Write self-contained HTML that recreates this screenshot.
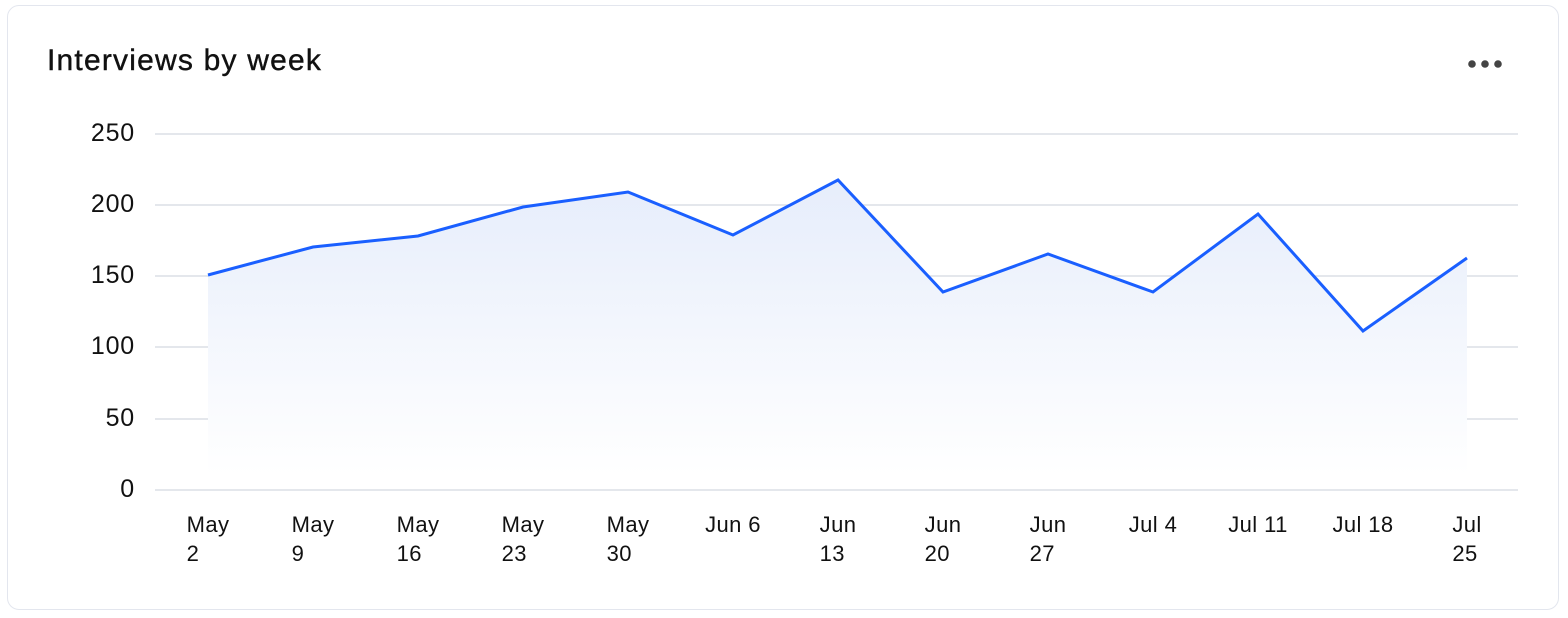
<!DOCTYPE html>
<html><head><style>
body{margin:0;width:1568px;height:618px;background:#fff;font-family:"Liberation Sans",sans-serif;position:relative;overflow:hidden}
.card{position:absolute;left:7px;top:5px;width:1552px;height:605px;border:1.5px solid #e3e6ee;border-radius:12px;box-sizing:border-box}
.title{position:absolute;left:47px;top:44px;font-size:30px;color:#111;letter-spacing:1.2px;-webkit-text-stroke:0.4px #111}
.yl{position:absolute;width:80px;text-align:right;left:55px;font-size:25px;color:#111;letter-spacing:0.8px}
.xl{position:absolute;top:510px;font-size:22px;line-height:29px;color:#111;transform:translateX(-50%);text-align:left;white-space:nowrap;letter-spacing:0.4px}
</style></head><body>
<div class="card"></div>
<div class="title">Interviews by week</div>
<svg style="position:absolute;left:0;top:0" width="1568" height="618">
<defs><linearGradient id="g" x1="0" y1="0" x2="0" y2="1"><stop offset="0" stop-color="#e6edfb"/><stop offset="1" stop-color="#ffffff"/></linearGradient></defs>
<circle cx="1472" cy="64" r="3.8" fill="#444"/><circle cx="1485" cy="64" r="3.8" fill="#444"/><circle cx="1498" cy="64" r="3.8" fill="#444"/>
<g stroke="#dcdfe6" stroke-width="1.5">
<line x1="155" x2="1518" y1="134" y2="134"/><line x1="155" x2="1518" y1="205" y2="205"/><line x1="155" x2="1518" y1="276" y2="276"/><line x1="155" x2="1518" y1="347" y2="347"/><line x1="155" x2="1518" y1="419" y2="419"/><line x1="155" x2="1518" y1="490" y2="490"/>
</g>
<polygon fill="url(#g)" points="208,275 313,247 418,236 523,207 628,192 733,235 838,180 943,292 1048,254 1153,292 1258,214 1363,331 1467,258 1467,475 208,475"/>
<polyline fill="none" stroke="#1a5fff" stroke-width="3" stroke-linejoin="miter" points="208,275 313,247 418,236 523,207 628,192 733,235 838,180 943,292 1048,254 1153,292 1258,214 1363,331 1467,258"/>
</svg>
<div class="yl" style="top:119px">250</div>
<div class="yl" style="top:190px">200</div>
<div class="yl" style="top:261px">150</div>
<div class="yl" style="top:332px">100</div>
<div class="yl" style="top:404px">50</div>
<div class="yl" style="top:475px">0</div>
<div class="xl" style="left:208px">May<br>2</div>
<div class="xl" style="left:313px">May<br>9</div>
<div class="xl" style="left:418px">May<br>16</div>
<div class="xl" style="left:523px">May<br>23</div>
<div class="xl" style="left:628px">May<br>30</div>
<div class="xl" style="left:733px">Jun 6</div>
<div class="xl" style="left:838px">Jun<br>13</div>
<div class="xl" style="left:943px">Jun<br>20</div>
<div class="xl" style="left:1048px">Jun<br>27</div>
<div class="xl" style="left:1153px">Jul 4</div>
<div class="xl" style="left:1258px">Jul 11</div>
<div class="xl" style="left:1363px">Jul 18</div>
<div class="xl" style="left:1467px">Jul<br>25</div>
</body></html>
